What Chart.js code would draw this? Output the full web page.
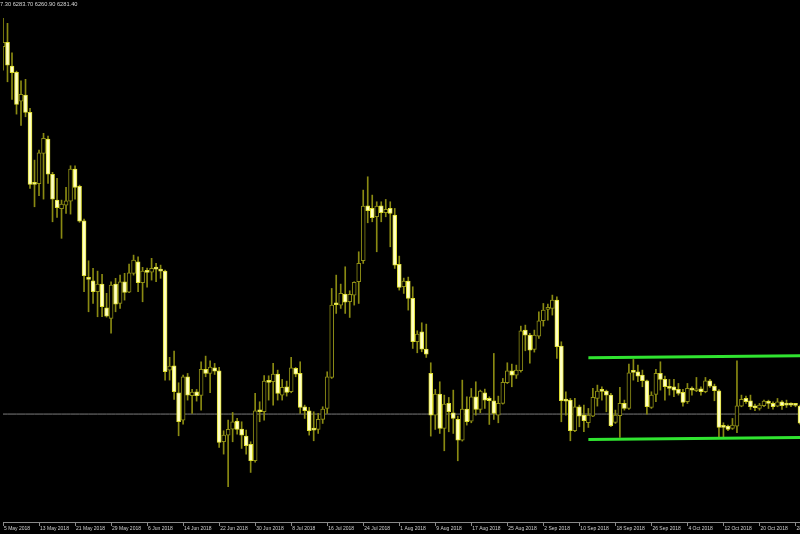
<!DOCTYPE html>
<html>
<head>
<meta charset="utf-8">
<script src="https://cdn.jsdelivr.net/npm/chart.js@4.4.0/dist/chart.umd.min.js"></script>
<style>
    html, body { margin: 0; padding: 0; background: #000; }
    #wrap { position: relative; width: 800px; height: 534px; overflow: hidden; }
    #ohlc {
        position: absolute; left: 0; top: 0;
        font-family: "Liberation Sans", sans-serif; font-size: 5.7px; line-height: 8px;
        color: #d6d6d6; white-space: nowrap;
    }
</style>
</head>
<body>
<div id="wrap">
    <canvas id="chart" width="800" height="534"></canvas>
    <div id="ohlc">7.30 6283.70 6260.90 6281.40</div>
</div>
<script>
const CHART_CANVAS_ID = "chart";
const WICK_COLOR = "#8a8a12";
const BULL_BORDER = "#8e8e16";
const BEAR_FILL = "#ffffc4";
const BEAR_BORDER = "#e0e032";
const CHANNEL_COLOR = "#30e430";
const BID_COLOR = "#7c7c7c";

// daily bars from 5 May 2018
const START_DAY = Date.UTC(2018, 4, 5);
const MONTHS = ["Jan", "Feb", "Mar", "Apr", "May", "Jun", "Jul", "Aug", "Sep", "Oct", "Nov", "Dec"];

const opens = [
    9587, 9627, 9413, 9357, 9098, 9152, 8997, 8360, 8354, 8628,
    8756, 8439, 8207, 8129, 8162, 8198, 8486, 8330, 8021, 7512,
    7481, 7382, 7451, 7238, 7143, 7451, 7278, 7472, 7379, 7548,
    7652, 7463, 7568, 7559, 7595, 7584, 7568, 6677, 6716, 6473,
    6227, 6617, 6446, 6482, 6449, 6683, 6647, 6698, 6671, 6032,
    6092, 6146, 6218, 6146, 6083, 6008, 5861, 6317, 6302, 6581,
    6572, 6641, 6452, 6527, 6482, 6692, 6647, 6347, 6311, 6152,
    6143, 6233, 6332, 6611, 7277, 7262, 7361, 7292, 7352, 7472,
    7661, 8156, 8132, 8057, 8156, 8093, 8132, 8072, 7628, 7427,
    7478, 7322, 6932, 7022, 6866, 6647, 6272, 6461, 6152, 6377,
    6293, 6233, 6047, 6326, 6218, 6437, 6323, 6473, 6422, 6401,
    6272, 6377, 6563, 6671, 6632, 6671, 7037, 6992, 6863, 6983,
    7121, 7223, 7232, 7307, 6893, 6413, 6407, 6131, 6347, 6272,
    6203, 6263, 6422, 6497, 6488, 6452, 6206, 6266, 6377, 6332,
    6671, 6662, 6632, 6581, 6341, 6458, 6647, 6593, 6527, 6527,
    6503, 6476, 6392, 6509, 6491, 6509, 6482, 6581, 6533, 6491,
    6173, 6173, 6152, 6173, 6353, 6422, 6401, 6353, 6332, 6356,
    6392, 6377, 6353, 6392, 6377, 6371, 6371, 6353
];
const highs = [
    9843, 9798, 9533, 9368, 9281, 9294, 9033, 8567, 8657, 8808,
    8783, 8457, 8403, 8207, 8322, 8516, 8516, 8342, 8036, 7661,
    7593, 7568, 7539, 7368, 7472, 7503, 7532, 7548, 7631, 7712,
    7697, 7602, 7595, 7683, 7638, 7622, 7577, 6792, 6848, 6563,
    6632, 6647, 6503, 6503, 6752, 6803, 6761, 6737, 6701, 6131,
    6227, 6296, 6242, 6212, 6137, 6032, 6467, 6392, 6628, 6626,
    6737, 6677, 6593, 6578, 6792, 6701, 6752, 6362, 6341, 6302,
    6287, 6347, 6662, 7412, 7532, 7451, 7607, 7391, 7472, 7742,
    8297, 8417, 8252, 8192, 8192, 8213, 8192, 8132, 7703, 7505,
    7514, 7427, 7031, 7103, 7091, 6743, 6503, 6572, 6452, 6431,
    6497, 6263, 6587, 6437, 6512, 6572, 6497, 6506, 6437, 6827,
    6443, 6602, 6743, 6731, 6722, 7073, 7082, 7007, 7037, 7202,
    7277, 7271, 7352, 7337, 6932, 6482, 6422, 6422, 6362, 6362,
    6332, 6512, 6542, 6527, 6497, 6467, 6317, 6521, 6407, 6731,
    6773, 6722, 6677, 6587, 6482, 6683, 6752, 6623, 6593, 6593,
    6557, 6503, 6557, 6527, 6611, 6527, 6611, 6593, 6551, 6502,
    6203, 6182, 6242, 6761, 6452, 6443, 6452, 6371, 6377, 6407,
    6407, 6392, 6422, 6403, 6407, 6383, 6377, 6362
];
const lows = [
    9377, 9272, 9114, 8981, 8880, 8957, 8313, 8147, 8246, 8216,
    8358, 8012, 8052, 7863, 8088, 8081, 8216, 8007, 7382, 7202,
    7278, 7157, 7157, 7154, 7010, 7202, 7233, 7307, 7373, 7532,
    7382, 7292, 7424, 7487, 7472, 7503, 6587, 6587, 6414, 6086,
    6191, 6407, 6287, 6398, 6317, 6617, 6473, 6638, 5981, 5921,
    5627, 6032, 6101, 5972, 5921, 5756, 5849, 6212, 6227, 6407,
    6362, 6407, 6407, 6443, 6473, 6617, 6287, 6242, 6092, 6041,
    6107, 6197, 6287, 6602, 7187, 7232, 7187, 7151, 7262, 7277,
    7637, 8003, 8012, 7742, 8012, 8057, 7787, 7592, 7397, 7367,
    7217, 6872, 6833, 6842, 6791, 6083, 6143, 6107, 5951, 6122,
    6107, 5861, 6038, 6182, 6203, 6272, 6293, 6332, 6188, 6233,
    6203, 6371, 6556, 6527, 6602, 6659, 6851, 6740, 6839, 6962,
    7073, 7127, 7172, 6782, 6212, 6272, 6041, 6122, 6167, 6122,
    6161, 6257, 6353, 6407, 6302, 6167, 6197, 6071, 6317, 6323,
    6587, 6572, 6527, 6281, 6332, 6392, 6497, 6407, 6452, 6437,
    6452, 6353, 6377, 6452, 6483, 6452, 6473, 6521, 6401, 6077,
    6077, 6131, 6143, 6113, 6347, 6377, 6323, 6311, 6317, 6347,
    6332, 6326, 6347, 6323, 6341, 6347, 6347, 6191
];
const closes = [
    9627, 9422, 9353, 9069, 9159, 8997, 8349, 8349, 8633, 8763,
    8441, 8216, 8138, 8171, 8201, 8486, 8322, 8018, 7526, 7494,
    7382, 7451, 7247, 7163, 7442, 7271, 7472, 7377, 7553, 7667,
    7463, 7568, 7557, 7593, 7586, 7568, 6662, 6713, 6482, 6212,
    6617, 6452, 6479, 6446, 6683, 6647, 6704, 6668, 6026, 6092,
    6143, 6212, 6143, 6092, 5996, 5861, 6311, 6302, 6578, 6566,
    6641, 6467, 6521, 6476, 6698, 6641, 6341, 6311, 6131, 6137,
    6233, 6326, 6617, 7262, 7265, 7367, 7289, 7358, 7466, 7637,
    8153, 8111, 8048, 8153, 8093, 8123, 8087, 7622, 7421, 7478,
    7322, 6932, 7001, 6866, 6821, 6272, 6461, 6152, 6371, 6302,
    6242, 6047, 6326, 6212, 6437, 6323, 6488, 6407, 6401, 6287,
    6377, 6566, 6671, 6632, 6677, 7031, 6992, 6857, 6992, 7121,
    7217, 7241, 7307, 6887, 6401, 6398, 6131, 6347, 6263, 6221,
    6272, 6431, 6488, 6485, 6452, 6176, 6272, 6377, 6332, 6653,
    6656, 6623, 6581, 6347, 6452, 6647, 6593, 6527, 6512, 6497,
    6467, 6386, 6512, 6497, 6506, 6482, 6581, 6533, 6491, 6161,
    6161, 6143, 6182, 6356, 6413, 6392, 6347, 6338, 6362, 6398,
    6377, 6347, 6392, 6356, 6362, 6362, 6359, 6200
];

const tickDates = [
    "5 May 2018", "13 May 2018", "21 May 2018", "29 May 2018", "6 Jun 2018", "14 Jun 2018",
    "22 Jun 2018", "30 Jun 2018", "8 Jul 2018", "16 Jul 2018", "24 Jul 2018", "1 Aug 2018",
    "9 Aug 2018", "17 Aug 2018", "25 Aug 2018", "2 Sep 2018", "10 Sep 2018", "18 Sep 2018",
    "26 Sep 2018", "4 Oct 2018", "12 Oct 2018", "20 Oct 2018", "28 Oct 2018"
];

// bid line and the drawn price channel
const bidPrice = 6281.4;
const channelStart = 130;
const channelEnd = 177;
const channelUpper = [6788, 6806];
const channelLower = [6053, 6071];

const PRICE_MIN = 5310;
const PRICE_MAX = 10008;

const dayLabels = opens.map((_, i) => {
    let d = new Date(START_DAY + i * 86400000);
    return d.getUTCDate() + " " + MONTHS[d.getUTCMonth()] + " " + d.getUTCFullYear();
});

function channelData(ends) {
    let data = dayLabels.map(() => null);
    data[channelStart] = ends[0];
    data[channelEnd] = ends[1];
    return data;
}

const isBear = opens.map((o, i) => closes[i] < o);

new Chart(document.getElementById(CHART_CANVAS_ID), {
    type: "bar",
    data: {
        labels: dayLabels,
        datasets: [
            {
                type: "line",
                data: dayLabels.map(() => bidPrice),
                borderColor: BID_COLOR,
                borderWidth: 1,
                pointRadius: 0,
                order: 5,
            },
            {
                data: lows.map((l, i) => [l, highs[i]]),
                backgroundColor: WICK_COLOR,
                barThickness: 1,
                grouped: false,
                order: 3,
            },
            {
                data: opens.map((o, i) => [o, closes[i]]),
                backgroundColor: isBear.map(b => b ? BEAR_FILL : "#000000"),
                borderColor: isBear.map(b => b ? BEAR_BORDER : BULL_BORDER),
                borderWidth: 1,
                borderSkipped: false,
                barThickness: 4,
                minBarLength: 2,
                grouped: false,
                order: 2,
            },
            {
                type: "line",
                data: channelData(channelUpper),
                borderColor: CHANNEL_COLOR,
                borderWidth: 3,
                pointRadius: 0,
                spanGaps: true,
                order: 0,
            },
            {
                type: "line",
                data: channelData(channelLower),
                borderColor: CHANNEL_COLOR,
                borderWidth: 3,
                pointRadius: 0,
                spanGaps: true,
                order: 0,
            },
        ]
    },
    options: {
        responsive: false,
        animation: false,
        devicePixelRatio: 1,
        layout: {padding: {left: 3, right: 0, top: 0, bottom: 2}},
        plugins: {
            legend: {display: false},
            tooltip: {enabled: false},
        },
        scales: {
            x: {
                type: "category",
                offset: false,
                grid: {
                    display: true,
                    offset: false,
                    drawOnChartArea: false,
                    drawTicks: true,
                    tickLength: 4,
                    color: "#8a8a8a",
                },
                border: {display: true, color: "#8a8a8a"},
                ticks: {
                    autoSkip: false,
                    maxRotation: 0,
                    minRotation: 0,
                    align: "start",
                    padding: 0,
                    labelOffset: 1,
                    color: "#cfcfcf",
                    font: {family: "Liberation Sans", size: 5},
                    callback: function (value, index) {
                        let label = dayLabels[index];
                        return tickDates.includes(label) ? label : null;
                    }
                },
                afterFit: function (scale) {
                    scale.paddingLeft = 0;
                    scale.paddingRight = 0;
                }
            },
            y: {
                display: false,
                min: PRICE_MIN,
                max: PRICE_MAX,
            }
        }
    }
});
</script>
</body>
</html>
